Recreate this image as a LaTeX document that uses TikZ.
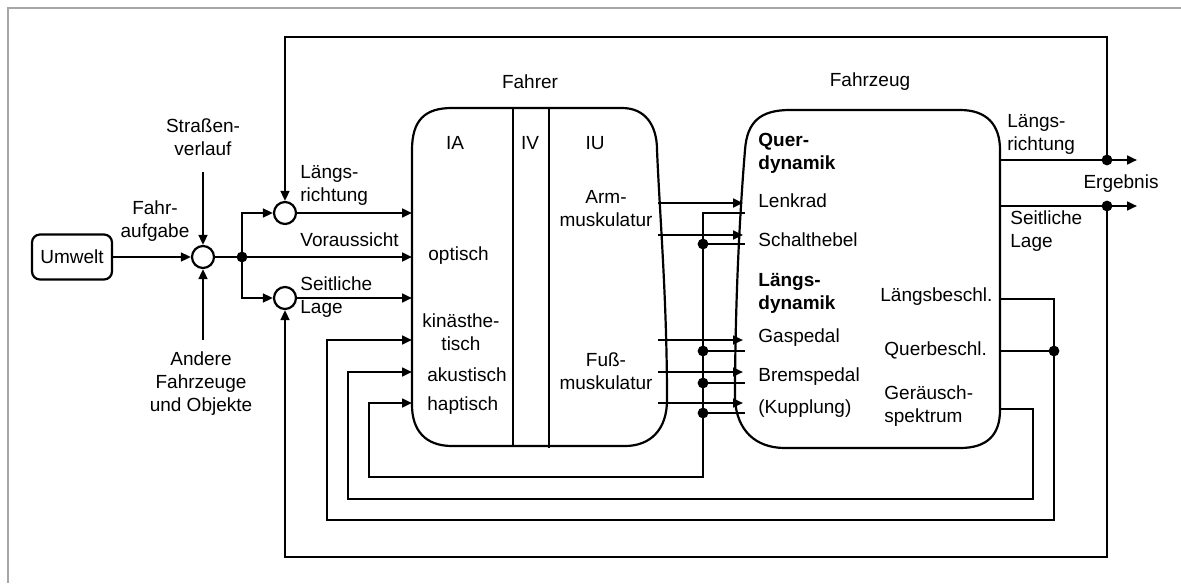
\documentclass[tikz,border=0pt]{standalone}
\usepackage{fontspec}
\setmainfont{Liberation Sans}
\usetikzlibrary{arrows.meta}
\begin{document}
\begin{tikzpicture}[x=0.5pt,y=-0.5pt,
  ln/.style={line width=1.1pt},
  arr/.style={line width=1.1pt,-{Triangle[length=5pt,width=4.4pt]}},
  dot/.style={circle,fill=black,inner sep=0pt,minimum size=5.4pt},
  sumc/.style={circle,draw,line width=1.1pt,inner sep=0pt,minimum size=11pt,fill=white},
  lbl/.style={font=\fontsize{9.5}{11.5}\selectfont,inner sep=0pt},
  box/.style={draw,line width=1.1pt,rounded corners=4pt,minimum width=40pt,minimum height=22.5pt,inner sep=0pt,font=\fontsize{9.5}{11.5}\selectfont}]
\fill[white] (0,0) rectangle (1181,583);
\useasboundingbox (0,0) rectangle (1181,583);
\draw[gray!70,line width=1pt] (8,583) -- (8,8) -- (1181,8);

% environment side
\node[box] (umwelt) at (72,257) {Umwelt};
\node[sumc] (s0) at (203,257) {};
\node[sumc] (s1) at (285,213) {};
\node[sumc] (s2) at (285,298) {};
\coordinate (j0) at (242,257);
\node[lbl,align=center] (strasse) at (203,137) {Straßen-\\verlauf};
\coordinate (strTop) at (203,172);
\node[lbl,align=center] (fahraufgabe) at (155,221) {Fahr-\\aufgabe};
\node[lbl,align=center] (andere) at (201,384) {Andere\\Fahrzeuge\\und Objekte};
\coordinate (andTop) at (203,340);
\draw[arr] (umwelt) -- (s0);
\draw[arr] (strTop) -- (s0);
\draw[arr] (andTop) -- (s0);
\draw[ln] (s0) -- (j0);
\draw[arr] (j0) |- (s1);
\draw[arr] (j0) |- (s2);
\node[dot] (j0d) at (j0) {};

% Fahrer inputs
\coordinate (fa1) at (412,213);
\coordinate (fa2) at (412,257);
\coordinate (fa3) at (412,298);
\coordinate (fa4) at (412,340);
\coordinate (fa5) at (412,372);
\coordinate (fa6) at (412,403);
\draw[arr] (s1) -- (fa1);
\draw[arr] (j0) -- (fa2);
\draw[arr] (s2) -- (fa3);
\node[lbl,align=left,anchor=west] (lrA) at (300,185) {Längs-\\richtung};
\node[lbl,anchor=west] (vor) at (300,240) {Voraussicht};
\node[lbl,align=left,anchor=west] (slA) at (300,297) {Seitliche\\Lage};

% Fahrer box
\draw[ln] (412,150) .. controls (412,120) and (425,108) .. (452,108) -- (622,108)
  .. controls (645,108) and (657,125) .. (657,150)
  .. controls (660,220) and (667,300) .. (667,400)
  .. controls (667,430) and (650,446) .. (625,446) -- (452,446)
  .. controls (425,446) and (412,430) .. (412,405) -- cycle;
\draw[ln] (513,108) -- (513,446);
\draw[ln] (549,108) -- (549,448);
\node[lbl] (fahrer) at (530,82) {Fahrer};
\node[lbl] (ia) at (455,143) {IA};
\node[lbl] (iv) at (530,143) {IV};
\node[lbl] (iu) at (595,143) {IU};
\node[lbl,anchor=west] (opt) at (428,256) {optisch};
\node[lbl,align=center] (kin) at (461,332) {kinästhe-\\tisch};
\node[lbl,anchor=west] (aku) at (427,375) {akustisch};
\node[lbl,anchor=west] (hap) at (427,406) {haptisch};
\node[lbl,align=center] (arm) at (606,209) {Arm-\\muskulatur};
\node[lbl,align=center] (fuss) at (606,371) {Fuß-\\muskulatur};

% Fahrzeug box
\draw[ln] (745,150) .. controls (747,122) and (760,110) .. (790,110) -- (960,110)
  .. controls (987,110) and (1000,125) .. (1000,150) -- (1000,410)
  .. controls (1000,435) and (987,448) .. (960,448) -- (785,448)
  .. controls (755,448) and (737,430) .. (735,400)
  .. controls (735,300) and (740,210) .. (745,150);
\node[lbl] (fahrzeug) at (870,82) {Fahrzeug};
\node[lbl,align=left,anchor=west,font=\fontsize{9.5}{11.5}\selectfont\bfseries] (quer) at (758,153) {Quer-\\dynamik};
\node[lbl,anchor=west] (lenk) at (758,201) {Lenkrad};
\node[lbl,anchor=west] (schalt) at (758,240) {Schalthebel};
\node[lbl,align=left,anchor=west,font=\fontsize{9.5}{11.5}\selectfont\bfseries] (laengs) at (758,293) {Längs-\\dynamik};
\node[lbl,anchor=west] (gas) at (758,338) {Gaspedal};
\node[lbl,anchor=west] (brems) at (758,377) {Bremspedal};
\node[lbl,anchor=west] (kupp) at (758,409) {(Kupplung)};
\node[lbl,anchor=west] (lb) at (880,297) {Längsbeschl.};
\node[lbl,anchor=west] (qb) at (884,350) {Querbeschl.};
\node[lbl,align=left,anchor=west] (gs) at (884,406) {Geräusch-\\spektrum};

% Fahrer -> Fahrzeug
\foreach \i/\y in {1/203,2/235,3/340,4/372,5/403}{
  \coordinate (fo\i) at (658,\y);
  \coordinate (fi\i) at (743,\y);
  \draw[arr] (fo\i) -- (fi\i);
}
% feedback of control elements
\coordinate (fb1) at (745,213);
\coordinate (fbb) at (703,477);
\coordinate (hapv) at (369,403);
\draw[arr] (fb1) -| (fbb) -| (hapv) -- (fa6);
\foreach \i/\y in {2/244,3/351,4/383,5/413}{
  \coordinate (fb\i) at (745,\y);
  \node[dot] (d\i) at (703,\y) {};
  \draw[ln] (fb\i) -- (d\i.center);
}

% vehicle outputs
\coordinate (lbo) at (1000,299);
\coordinate (qbo) at (1000,351);
\coordinate (kj) at (1054,351);
\coordinate (kb) at (1054,520);
\coordinate (kv) at (327,340);
\draw[ln] (lbo) -| (kj);
\draw[ln] (qbo) -- (kj);
\draw[arr] (kj) -- (kb) -| (kv) -- (fa4);
\node[dot] (kjd) at (kj) {};
\coordinate (gso) at (1000,409);
\coordinate (ab) at (1033,499);
\coordinate (av) at (348,372);
\draw[arr] (gso) -| (ab) -| (av) -- (fa5);

\coordinate (ro1) at (1000,160);
\coordinate (re1) at (1137,160);
\coordinate (ro2) at (1000,206);
\coordinate (re2) at (1137,206);
\coordinate (e1) at (1107,160);
\coordinate (e2) at (1107,206);
\coordinate (tl) at (285,37);
\coordinate (bl) at (285,557);
\draw[arr] (ro1) -- (re1);
\draw[arr] (ro2) -- (re2);
\draw[arr] (e1) |- (tl) -- (s1);
\draw[arr] (e2) |- (bl) -- (s2);
\node[dot] (e1d) at (e1) {};
\node[dot] (e2d) at (e2) {};
\node[lbl,align=left,anchor=west] (lrB) at (1007,134) {Längs-\\richtung};
\node[lbl,align=left,anchor=west] (slB) at (1010,231) {Seitliche\\Lage};
\node[lbl] (ergebnis) at (1121,184) {Ergebnis};
\end{tikzpicture}
\end{document}
